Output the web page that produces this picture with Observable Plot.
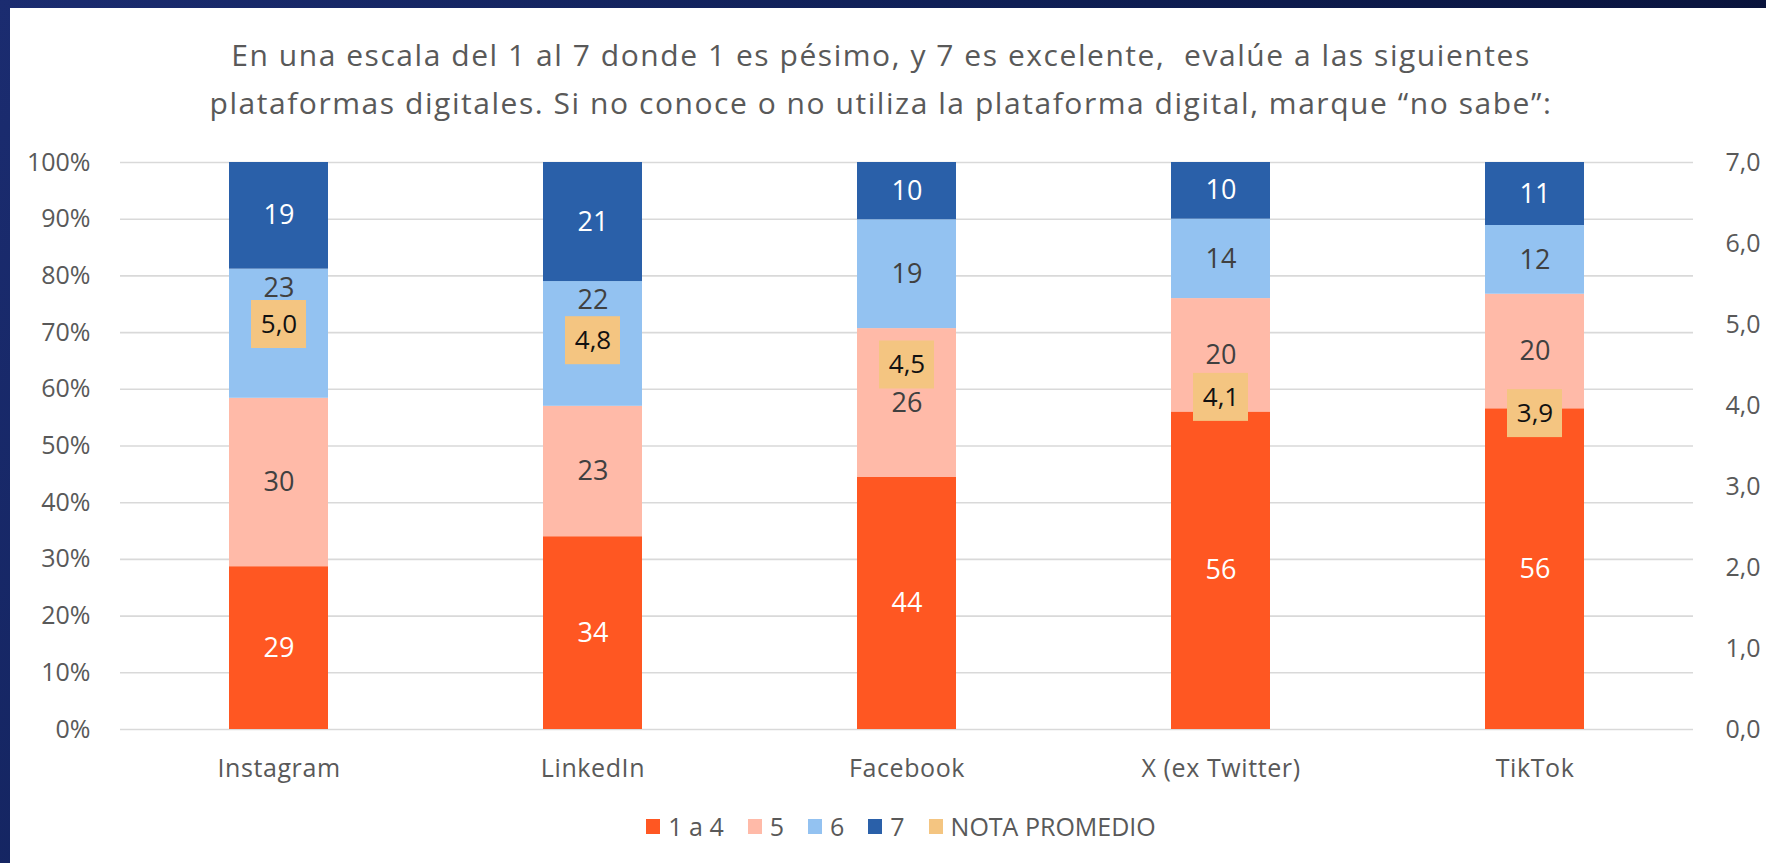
<!DOCTYPE html>
<html>
<head>
<meta charset="utf-8">
<script src="https://cdn.jsdelivr.net/npm/d3@7"></script>
<script src="https://cdn.jsdelivr.net/npm/@observablehq/plot@0.6"></script>
<style>
  html, body { margin: 0; padding: 0; width: 1766px; height: 863px; overflow: hidden; }
  body {
    position: relative;
    font-family: "Open Sans", sans-serif;
    background: linear-gradient(120deg, #1b2c70 0%, #0f1f55 45%, #0a1540 75%, #04081a 100%);
  }
  #panel { position: absolute; left: 10px; top: 8px; width: 1756px; height: 855px; background: #ffffff; }
  #title {
    position: absolute; left: 0; top: 31px; width: 1762px;
    text-align: center; font-size: 30px; line-height: 48px; color: #595959; white-space: pre;
    letter-spacing: 1.55px;
  }
  #chart { position: absolute; left: 0; top: 130px; }
  #chart g[aria-label="x-axis tick label"] text { letter-spacing: 0.6px; }
  #legend {
    position: absolute; left: 0; top: 810px; width: 1802px; height: 32px;
    display: flex; justify-content: center; align-items: center;
    font-size: 25px; color: #595959;
  }
  .item { display: flex; align-items: center; margin: 0 12px; }
  .sw { width: 14px; height: 15px; margin-right: 8px; }
</style>
</head>
<body>
<div id="panel"></div>
<div id="title"></div>
<div id="chart"></div>
<div id="legend"></div>
<script>
// ---- data ----
const titleLines = [
  "En una escala del 1 al 7 donde 1 es pésimo, y 7 es excelente,  evalúe a las siguientes",
  "plataformas digitales. Si no conoce o no utiliza la plataforma digital, marque “no sabe”:"
];
const platforms = ["Instagram", "LinkedIn", "Facebook", "X (ex Twitter)", "TikTok"];
const categories = ["1 a 4", "5", "6", "7"];
const v1a4 = [29, 34, 44, 56, 56];
const v5   = [30, 23, 26, 20, 20];
const v6   = [23, 22, 19, 14, 12];
const v7   = [19, 21, 10, 10, 11];
const notaPromedio = [5.0, 4.8, 4.5, 4.1, 3.9];
const notaLabel = "NOTA PROMEDIO";
const leftTicks = [0, 10, 20, 30, 40, 50, 60, 70, 80, 90, 100];
const rightTicks = [0, 1, 2, 3, 4, 5, 6, 7];
const notaMax = 7;

const catColors = ["#FF5722", "#FFBAA8", "#93C2F1", "#2A60A9"];
const notaColor = "#F4C581";

// ---- build rows ----
const series = [v1a4, v5, v6, v7];
const rows = [];
platforms.forEach((p, i) => {
  categories.forEach((c, j) => rows.push({platform: p, cat: c, value: series[j][i]}));
});
const notaRows = platforms.map((p, i) => ({platform: p, nota: notaPromedio[i]}));

// labels of a segment that would collide with the average box are moved to the top of the segment
const nudged = new Set();
platforms.forEach((p, i) => {
  const tot = series.reduce((s, a) => s + a[i], 0);
  let cum = 0;
  categories.forEach((c, j) => {
    const mid = (cum + series[j][i] / 2) / tot;
    cum += series[j][i];
    if (c === "6" && Math.abs(mid - notaPromedio[i] / notaMax) < 0.05) nudged.add(p + "|" + c);
  });
});
const isNudged = d => nudged.has(d.platform + "|" + d.cat);
const lightCats = new Set(["1 a 4", "7"]);
const fmt1 = v => v.toFixed(1).replace(".", ",");

// ---- title ----
document.getElementById("title").innerHTML = titleLines.map(t => `<div>${t}</div>`).join("");

// ---- chart ----
const chart = Plot.plot({
  width: 1766,
  height: 680,
  marginTop: 32,
  marginBottom: 81,
  marginLeft: 120,
  marginRight: 73,
  style: {fontFamily: "Open Sans, sans-serif", background: "transparent", color: "#595959"},
  x: {domain: platforms, paddingInner: 0.686, paddingOuter: 0.343, label: null},
  y: {domain: [0, 1], label: null},
  color: {domain: categories, range: catColors},
  marks: [
    Plot.ruleY(leftTicks.map(d => d / 100), {stroke: "#d9d9d9", strokeWidth: 1.6}),
    Plot.barY(rows, {x: "platform", y: "value", fill: "cat", offset: "normalize"}),
    // centered labels, white
    Plot.text(rows, Plot.stackY({
      x: "platform", y: "value", offset: "normalize",
      text: d => (lightCats.has(d.cat) ? String(d.value) : null),
      fill: "#ffffff", fontSize: 27
    })),
    // centered labels, dark
    Plot.text(rows, Plot.stackY({
      x: "platform", y: "value", offset: "normalize",
      text: d => (!lightCats.has(d.cat) && !isNudged(d) ? String(d.value) : null),
      fill: "#404040", fontSize: 27
    })),
    // labels moved to the top of their segment
    Plot.text(rows, Plot.stackY2({
      x: "platform", y: "value", offset: "normalize",
      text: d => (isNudged(d) ? String(d.value) : null),
      fill: "#404040", fontSize: 27, dy: 19
    })),
    // average score boxes (secondary 0–7 axis)
    Plot.barY(notaRows, {
      x: "platform", y1: d => d.nota / notaMax, y2: d => d.nota / notaMax,
      fill: notaColor, insetLeft: 22, insetRight: 22, insetTop: -24, insetBottom: -24
    }),
    Plot.text(notaRows, {
      x: "platform", y: d => d.nota / notaMax, text: d => fmt1(d.nota),
      fill: "#111111", fontSize: 26
    }),
    Plot.axisX({tickSize: 0, tickPadding: 30, fontSize: 25, label: null, fill: "#595959"}),
    Plot.axisY(leftTicks.map(d => d / 100), {
      tickSize: 0, tickPadding: 30, fontSize: 25, label: null, fill: "#595959",
      tickFormat: d3.format(".0%")
    }),
    Plot.text(rightTicks, {
      y: d => d / notaMax, text: d => fmt1(d), frameAnchor: "right", dx: 32,
      textAnchor: "start", fill: "#595959", fontSize: 25
    })
  ]
});
document.getElementById("chart").appendChild(chart);

// ---- legend ----
const legendItems = categories.map((c, j) => ({label: c, color: catColors[j]}))
  .concat([{label: notaLabel, color: notaColor}]);
document.getElementById("legend").innerHTML = legendItems.map(d =>
  `<div class="item"><div class="sw" style="background:${d.color}"></div><span>${d.label}</span></div>`
).join("");
</script>
</body>
</html>
